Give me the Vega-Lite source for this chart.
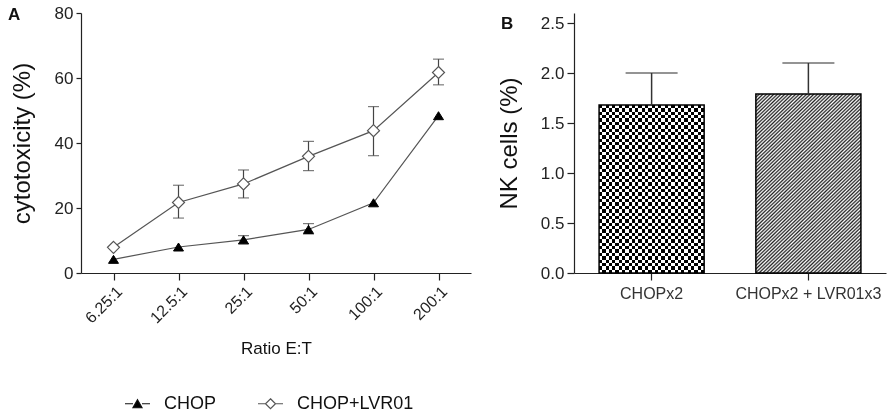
{
"$schema": "https://vega.github.io/schema/vega-lite/v6.json",
"padding": {"left": 8, "top": 4, "right": 4, "bottom": 0},
"spacing": 26,
"config": {
  "font": "Liberation Sans",
  "view": {"stroke": null},
  "axis": {"labelFont": "Liberation Sans", "titleFont": "Liberation Sans", "domainColor": "#222", "tickColor": "#222", "labelColor": "#222", "titleColor": "#111", "grid": false, "titleFontWeight": "normal", "domainWidth": 1.2, "tickWidth": 1.2},
  "legend": {"labelFont": "Liberation Sans"},
  "title": {"font": "Liberation Sans"}
},
"hconcat": [
{
  "width": 390, "height": 260,
  "title": {"text": "A", "anchor": "start", "frame": "group", "fontSize": 17, "fontWeight": "bold", "color": "#111", "dx": -73, "dy": 0, "offset": -20, "baseline": "top"},
  "data": {"values": [
    {"ratio": "6.25:1", "series": "CHOP", "v": 4.2},
    {"ratio": "12.5:1", "series": "CHOP", "v": 8.0},
    {"ratio": "25:1", "series": "CHOP", "v": 10.2, "lo": 9.0, "hi": 11.5},
    {"ratio": "50:1", "series": "CHOP", "v": 13.4, "lo": 12.0, "hi": 15.2},
    {"ratio": "100:1", "series": "CHOP", "v": 21.6},
    {"ratio": "200:1", "series": "CHOP", "v": 48.4},
    {"ratio": "6.25:1", "series": "CHOP+LVR01", "v": 7.9},
    {"ratio": "12.5:1", "series": "CHOP+LVR01", "v": 21.7, "lo": 16.9, "hi": 27.0},
    {"ratio": "25:1", "series": "CHOP+LVR01", "v": 27.4, "lo": 23.1, "hi": 31.7},
    {"ratio": "50:1", "series": "CHOP+LVR01", "v": 35.9, "lo": 31.5, "hi": 40.5},
    {"ratio": "100:1", "series": "CHOP+LVR01", "v": 43.8, "lo": 36.1, "hi": 51.2},
    {"ratio": "200:1", "series": "CHOP+LVR01", "v": 61.7, "lo": 57.9, "hi": 65.8}
  ]},
  "encoding": {
    "x": {"field": "ratio", "type": "ordinal", "sort": ["6.25:1", "12.5:1", "25:1", "50:1", "100:1", "200:1"],
          "scale": {"type": "point", "padding": 0.5},
          "axis": {"title": "Ratio E:T", "labelAngle": -45, "labelFontSize": 16, "titleFontSize": 17, "tickSize": 7, "labelPadding": 3, "titlePadding": 15}}
  },
  "layer": [
    {"mark": {"type": "line", "color": "#555", "strokeWidth": 1.2},
     "encoding": {"y": {"field": "v", "type": "quantitative", "title": "cytotoxicity (%)", "scale": {"domain": [0, 80]},
                        "axis": {"values": [0, 20, 40, 60, 80], "tickSize": 5, "labelFontSize": 17, "titleFontSize": 24, "titlePadding": 20, "labelPadding": 3}},
                  "detail": {"field": "series"}}},
    {"transform": [{"filter": "isValid(datum.lo)"}],
     "mark": {"type": "rule", "color": "#444", "strokeWidth": 1.2},
     "encoding": {"y": {"field": "lo", "type": "quantitative", "title": "cytotoxicity (%)"}, "y2": {"field": "hi", "title": "cytotoxicity (%)"}}},
    {"transform": [{"filter": "isValid(datum.lo)"}],
     "mark": {"type": "tick", "color": "#444", "thickness": 1.2, "size": 11},
     "encoding": {"y": {"field": "lo", "type": "quantitative", "title": "cytotoxicity (%)"}}},
    {"transform": [{"filter": "isValid(datum.hi)"}],
     "mark": {"type": "tick", "color": "#444", "thickness": 1.2, "size": 11},
     "encoding": {"y": {"field": "hi", "type": "quantitative", "title": "cytotoxicity (%)"}}},
    {"transform": [{"filter": "datum.series === 'CHOP'"}],
     "mark": {"type": "point", "shape": "M0,-0.8L1,0.8L-1,0.8Z", "filled": true, "fill": "#000", "stroke": "#000", "strokeWidth": 1, "size": 100, "opacity": 1},
     "encoding": {"y": {"field": "v", "type": "quantitative", "title": "cytotoxicity (%)"}}},
    {"transform": [{"filter": "datum.series === 'CHOP+LVR01'"}],
     "mark": {"type": "point", "shape": "M0,-1L1,0L0,1L-1,0Z", "filled": true, "fill": "#fff", "stroke": "#555", "strokeWidth": 1.2, "size": 144, "opacity": 1},
     "encoding": {"y": {"field": "v", "type": "quantitative", "title": "cytotoxicity (%)"}}},
    {"transform": [{"filter": "false"}],
     "mark": {"type": "point", "filled": true, "strokeWidth": 1.2, "opacity": 1},
     "encoding": {
       "shape": {"field": "series", "type": "nominal",
                 "scale": {"domain": ["CHOP", "CHOP+LVR01"], "range": ["M-1,0L-0.36,0M0.36,0L1,0M0,-0.32L0.36,0.32L-0.36,0.32Z", "M-1,0L-0.4,0M0.4,0L1,0M0,-0.4L0.4,0L0,0.4L-0.4,0Z"]},
                 "legend": {"title": null, "orient": "none", "legendX": 43, "legendY": 377, "direction": "horizontal", "symbolSize": 625, "labelFontSize": 18, "labelColor": "#111", "symbolStrokeWidth": 1.2, "labelOffset": 13, "columnPadding": 38, "symbolOpacity": 1}},
       "fill": {"field": "series", "type": "nominal",
                "scale": {"domain": ["CHOP", "CHOP+LVR01"], "range": ["#000", "#fff"]},
                "legend": {"title": null, "orient": "none", "legendX": 43, "legendY": 377, "direction": "horizontal", "symbolSize": 625, "labelFontSize": 18, "labelColor": "#111", "symbolStrokeWidth": 1.2, "labelOffset": 13, "columnPadding": 38, "symbolOpacity": 1}},
       "stroke": {"field": "series", "type": "nominal",
                "scale": {"domain": ["CHOP", "CHOP+LVR01"], "range": ["#111", "#555"]},
                "legend": {"title": null, "orient": "none", "legendX": 43, "legendY": 377, "direction": "horizontal", "symbolSize": 625, "labelFontSize": 18, "labelColor": "#111", "symbolStrokeWidth": 1.2, "labelOffset": 13, "columnPadding": 38, "symbolOpacity": 1}}
     }}
  ]
},
{
  "width": 312, "height": 260,
  "title": {"text": "B", "anchor": "start", "frame": "group", "fontSize": 17, "fontWeight": "bold", "color": "#111", "dx": -73, "dy": 0, "offset": -20, "baseline": "top"},
  "data": {"values": [
    {"group": "CHOPx2", "v": 1.68, "hi": 2.0},
    {"group": "CHOPx2 + LVR01x3", "v": 1.79, "hi": 2.1}
  ]},
  "encoding": {
    "x": {"field": "group", "type": "nominal", "sort": null,
          "scale": {"paddingInner": 0.33, "paddingOuter": 0.16},
          "axis": {"title": null, "labelAngle": 0, "labelFontSize": 16, "tickSize": 7, "labelPadding": 5, "labelColor": "#333"}}
  },
  "layer": [
    {"transform": [{"filter": "datum.group === 'CHOPx2'"}],
     "mark": {"type": "bar", "fill": {"gradient": "linear", "x1": 0, "y1": 0, "x2": 0, "y2": 1, "stops": [
       {"offset": 0, "color": "#000"}, {"offset": 0.02, "color": "#000"}, {"offset": 0.02, "color": "#fff"}, {"offset": 0.04, "color": "#fff"},
       {"offset": 0.04, "color": "#000"}, {"offset": 0.06, "color": "#000"}, {"offset": 0.06, "color": "#fff"}, {"offset": 0.08, "color": "#fff"},
       {"offset": 0.08, "color": "#000"}, {"offset": 0.1, "color": "#000"}, {"offset": 0.1, "color": "#fff"}, {"offset": 0.12, "color": "#fff"},
       {"offset": 0.12, "color": "#000"}, {"offset": 0.14, "color": "#000"}, {"offset": 0.14, "color": "#fff"}, {"offset": 0.16, "color": "#fff"},
       {"offset": 0.16, "color": "#000"}, {"offset": 0.18, "color": "#000"}, {"offset": 0.18, "color": "#fff"}, {"offset": 0.2, "color": "#fff"},
       {"offset": 0.2, "color": "#000"}, {"offset": 0.22, "color": "#000"}, {"offset": 0.22, "color": "#fff"}, {"offset": 0.24, "color": "#fff"},
       {"offset": 0.24, "color": "#000"}, {"offset": 0.26, "color": "#000"}, {"offset": 0.26, "color": "#fff"}, {"offset": 0.28, "color": "#fff"},
       {"offset": 0.28, "color": "#000"}, {"offset": 0.3, "color": "#000"}, {"offset": 0.3, "color": "#fff"}, {"offset": 0.32, "color": "#fff"},
       {"offset": 0.32, "color": "#000"}, {"offset": 0.34, "color": "#000"}, {"offset": 0.34, "color": "#fff"}, {"offset": 0.36, "color": "#fff"},
       {"offset": 0.36, "color": "#000"}, {"offset": 0.38, "color": "#000"}, {"offset": 0.38, "color": "#fff"}, {"offset": 0.4, "color": "#fff"},
       {"offset": 0.4, "color": "#000"}, {"offset": 0.42, "color": "#000"}, {"offset": 0.42, "color": "#fff"}, {"offset": 0.44, "color": "#fff"},
       {"offset": 0.44, "color": "#000"}, {"offset": 0.46, "color": "#000"}, {"offset": 0.46, "color": "#fff"}, {"offset": 0.48, "color": "#fff"},
       {"offset": 0.48, "color": "#000"}, {"offset": 0.5, "color": "#000"}, {"offset": 0.5, "color": "#fff"}, {"offset": 0.52, "color": "#fff"},
       {"offset": 0.52, "color": "#000"}, {"offset": 0.54, "color": "#000"}, {"offset": 0.54, "color": "#fff"}, {"offset": 0.56, "color": "#fff"},
       {"offset": 0.56, "color": "#000"}, {"offset": 0.58, "color": "#000"}, {"offset": 0.58, "color": "#fff"}, {"offset": 0.6, "color": "#fff"},
       {"offset": 0.6, "color": "#000"}, {"offset": 0.62, "color": "#000"}, {"offset": 0.62, "color": "#fff"}, {"offset": 0.64, "color": "#fff"},
       {"offset": 0.64, "color": "#000"}, {"offset": 0.66, "color": "#000"}, {"offset": 0.66, "color": "#fff"}, {"offset": 0.68, "color": "#fff"},
       {"offset": 0.68, "color": "#000"}, {"offset": 0.7, "color": "#000"}, {"offset": 0.7, "color": "#fff"}, {"offset": 0.72, "color": "#fff"},
       {"offset": 0.72, "color": "#000"}, {"offset": 0.74, "color": "#000"}, {"offset": 0.74, "color": "#fff"}, {"offset": 0.76, "color": "#fff"},
       {"offset": 0.76, "color": "#000"}, {"offset": 0.78, "color": "#000"}, {"offset": 0.78, "color": "#fff"}, {"offset": 0.8, "color": "#fff"},
       {"offset": 0.8, "color": "#000"}, {"offset": 0.82, "color": "#000"}, {"offset": 0.82, "color": "#fff"}, {"offset": 0.84, "color": "#fff"},
       {"offset": 0.84, "color": "#000"}, {"offset": 0.86, "color": "#000"}, {"offset": 0.86, "color": "#fff"}, {"offset": 0.88, "color": "#fff"},
       {"offset": 0.88, "color": "#000"}, {"offset": 0.9, "color": "#000"}, {"offset": 0.9, "color": "#fff"}, {"offset": 0.92, "color": "#fff"},
       {"offset": 0.92, "color": "#000"}, {"offset": 0.94, "color": "#000"}, {"offset": 0.94, "color": "#fff"}, {"offset": 0.96, "color": "#fff"},
       {"offset": 0.96, "color": "#000"}, {"offset": 0.98, "color": "#000"}, {"offset": 0.98, "color": "#fff"}, {"offset": 1, "color": "#fff"}
     ]}},
     "encoding": {"y": {"field": "v", "type": "quantitative", "title": "NK cells (%)", "scale": {"domain": [0, 2.5]},
                        "axis": {"values": [0, 0.5, 1, 1.5, 2, 2.5], "format": ".1f", "tickSize": 7, "labelFontSize": 17, "titleFontSize": 24, "titlePadding": 19, "labelPadding": 3}}}},
    {"transform": [{"filter": "datum.group === 'CHOPx2'"}],
     "mark": {"type": "bar", "blend": "difference", "fill": {"gradient": "linear", "x1": 0, "y1": 0, "x2": 1, "y2": 0, "stops": [
       {"offset": 0, "color": "#000"}, {"offset": 0.03125, "color": "#000"}, {"offset": 0.03125, "color": "#fff"}, {"offset": 0.0625, "color": "#fff"},
       {"offset": 0.0625, "color": "#000"}, {"offset": 0.09375, "color": "#000"}, {"offset": 0.09375, "color": "#fff"}, {"offset": 0.125, "color": "#fff"},
       {"offset": 0.125, "color": "#000"}, {"offset": 0.15625, "color": "#000"}, {"offset": 0.15625, "color": "#fff"}, {"offset": 0.1875, "color": "#fff"},
       {"offset": 0.1875, "color": "#000"}, {"offset": 0.21875, "color": "#000"}, {"offset": 0.21875, "color": "#fff"}, {"offset": 0.25, "color": "#fff"},
       {"offset": 0.25, "color": "#000"}, {"offset": 0.28125, "color": "#000"}, {"offset": 0.28125, "color": "#fff"}, {"offset": 0.3125, "color": "#fff"},
       {"offset": 0.3125, "color": "#000"}, {"offset": 0.34375, "color": "#000"}, {"offset": 0.34375, "color": "#fff"}, {"offset": 0.375, "color": "#fff"},
       {"offset": 0.375, "color": "#000"}, {"offset": 0.40625, "color": "#000"}, {"offset": 0.40625, "color": "#fff"}, {"offset": 0.4375, "color": "#fff"},
       {"offset": 0.4375, "color": "#000"}, {"offset": 0.46875, "color": "#000"}, {"offset": 0.46875, "color": "#fff"}, {"offset": 0.5, "color": "#fff"},
       {"offset": 0.5, "color": "#000"}, {"offset": 0.53125, "color": "#000"}, {"offset": 0.53125, "color": "#fff"}, {"offset": 0.5625, "color": "#fff"},
       {"offset": 0.5625, "color": "#000"}, {"offset": 0.59375, "color": "#000"}, {"offset": 0.59375, "color": "#fff"}, {"offset": 0.625, "color": "#fff"},
       {"offset": 0.625, "color": "#000"}, {"offset": 0.65625, "color": "#000"}, {"offset": 0.65625, "color": "#fff"}, {"offset": 0.6875, "color": "#fff"},
       {"offset": 0.6875, "color": "#000"}, {"offset": 0.71875, "color": "#000"}, {"offset": 0.71875, "color": "#fff"}, {"offset": 0.75, "color": "#fff"},
       {"offset": 0.75, "color": "#000"}, {"offset": 0.78125, "color": "#000"}, {"offset": 0.78125, "color": "#fff"}, {"offset": 0.8125, "color": "#fff"},
       {"offset": 0.8125, "color": "#000"}, {"offset": 0.84375, "color": "#000"}, {"offset": 0.84375, "color": "#fff"}, {"offset": 0.875, "color": "#fff"},
       {"offset": 0.875, "color": "#000"}, {"offset": 0.90625, "color": "#000"}, {"offset": 0.90625, "color": "#fff"}, {"offset": 0.9375, "color": "#fff"},
       {"offset": 0.9375, "color": "#000"}, {"offset": 0.96875, "color": "#000"}, {"offset": 0.96875, "color": "#fff"}, {"offset": 1, "color": "#fff"}
     ]}},
     "encoding": {"y": {"field": "v", "type": "quantitative", "title": "NK cells (%)"}}},
    {"transform": [{"filter": "datum.group !== 'CHOPx2'"}],
     "mark": {"type": "bar", "fill": {"gradient": "linear", "x1": 0, "y1": 0, "x2": 0.67, "y2": 1.186, "stops": [
       {"offset": 0, "color": "#222"}, {"offset": 0.00625, "color": "#fff"}, {"offset": 0.0125, "color": "#222"}, {"offset": 0.01875, "color": "#fff"}, {"offset": 0.025, "color": "#222"}, {"offset": 0.03125, "color": "#fff"}, {"offset": 0.0375, "color": "#222"}, {"offset": 0.04375, "color": "#fff"},
       {"offset": 0.05, "color": "#222"}, {"offset": 0.05625, "color": "#fff"}, {"offset": 0.0625, "color": "#222"}, {"offset": 0.06875, "color": "#fff"}, {"offset": 0.075, "color": "#222"}, {"offset": 0.08125, "color": "#fff"}, {"offset": 0.0875, "color": "#222"}, {"offset": 0.09375, "color": "#fff"},
       {"offset": 0.1, "color": "#222"}, {"offset": 0.10625, "color": "#fff"}, {"offset": 0.1125, "color": "#222"}, {"offset": 0.11875, "color": "#fff"}, {"offset": 0.125, "color": "#222"}, {"offset": 0.13125, "color": "#fff"}, {"offset": 0.1375, "color": "#222"}, {"offset": 0.14375, "color": "#fff"},
       {"offset": 0.15, "color": "#222"}, {"offset": 0.15625, "color": "#fff"}, {"offset": 0.1625, "color": "#222"}, {"offset": 0.16875, "color": "#fff"}, {"offset": 0.175, "color": "#222"}, {"offset": 0.18125, "color": "#fff"}, {"offset": 0.1875, "color": "#222"}, {"offset": 0.19375, "color": "#fff"},
       {"offset": 0.2, "color": "#222"}, {"offset": 0.20625, "color": "#fff"}, {"offset": 0.2125, "color": "#222"}, {"offset": 0.21875, "color": "#fff"}, {"offset": 0.225, "color": "#222"}, {"offset": 0.23125, "color": "#fff"}, {"offset": 0.2375, "color": "#222"}, {"offset": 0.24375, "color": "#fff"},
       {"offset": 0.25, "color": "#222"}, {"offset": 0.25625, "color": "#fff"}, {"offset": 0.2625, "color": "#222"}, {"offset": 0.26875, "color": "#fff"}, {"offset": 0.275, "color": "#222"}, {"offset": 0.28125, "color": "#fff"}, {"offset": 0.2875, "color": "#222"}, {"offset": 0.29375, "color": "#fff"},
       {"offset": 0.3, "color": "#222"}, {"offset": 0.30625, "color": "#fff"}, {"offset": 0.3125, "color": "#222"}, {"offset": 0.31875, "color": "#fff"}, {"offset": 0.325, "color": "#222"}, {"offset": 0.33125, "color": "#fff"}, {"offset": 0.3375, "color": "#222"}, {"offset": 0.34375, "color": "#fff"},
       {"offset": 0.35, "color": "#222"}, {"offset": 0.35625, "color": "#fff"}, {"offset": 0.3625, "color": "#222"}, {"offset": 0.36875, "color": "#fff"}, {"offset": 0.375, "color": "#222"}, {"offset": 0.38125, "color": "#fff"}, {"offset": 0.3875, "color": "#222"}, {"offset": 0.39375, "color": "#fff"},
       {"offset": 0.4, "color": "#222"}, {"offset": 0.40625, "color": "#fff"}, {"offset": 0.4125, "color": "#222"}, {"offset": 0.41875, "color": "#fff"}, {"offset": 0.425, "color": "#222"}, {"offset": 0.43125, "color": "#fff"}, {"offset": 0.4375, "color": "#222"}, {"offset": 0.44375, "color": "#fff"},
       {"offset": 0.45, "color": "#222"}, {"offset": 0.45625, "color": "#fff"}, {"offset": 0.4625, "color": "#222"}, {"offset": 0.46875, "color": "#fff"}, {"offset": 0.475, "color": "#222"}, {"offset": 0.48125, "color": "#fff"}, {"offset": 0.4875, "color": "#222"}, {"offset": 0.49375, "color": "#fff"},
       {"offset": 0.5, "color": "#222"}, {"offset": 0.50625, "color": "#fff"}, {"offset": 0.5125, "color": "#222"}, {"offset": 0.51875, "color": "#fff"}, {"offset": 0.525, "color": "#222"}, {"offset": 0.53125, "color": "#fff"}, {"offset": 0.5375, "color": "#222"}, {"offset": 0.54375, "color": "#fff"},
       {"offset": 0.55, "color": "#222"}, {"offset": 0.55625, "color": "#fff"}, {"offset": 0.5625, "color": "#222"}, {"offset": 0.56875, "color": "#fff"}, {"offset": 0.575, "color": "#222"}, {"offset": 0.58125, "color": "#fff"}, {"offset": 0.5875, "color": "#222"}, {"offset": 0.59375, "color": "#fff"},
       {"offset": 0.6, "color": "#222"}, {"offset": 0.60625, "color": "#fff"}, {"offset": 0.6125, "color": "#222"}, {"offset": 0.61875, "color": "#fff"}, {"offset": 0.625, "color": "#222"}, {"offset": 0.63125, "color": "#fff"}, {"offset": 0.6375, "color": "#222"}, {"offset": 0.64375, "color": "#fff"},
       {"offset": 0.65, "color": "#222"}, {"offset": 0.65625, "color": "#fff"}, {"offset": 0.6625, "color": "#222"}, {"offset": 0.66875, "color": "#fff"}, {"offset": 0.675, "color": "#222"}, {"offset": 0.68125, "color": "#fff"}, {"offset": 0.6875, "color": "#222"}, {"offset": 0.69375, "color": "#fff"},
       {"offset": 0.7, "color": "#222"}, {"offset": 0.70625, "color": "#fff"}, {"offset": 0.7125, "color": "#222"}, {"offset": 0.71875, "color": "#fff"}, {"offset": 0.725, "color": "#222"}, {"offset": 0.73125, "color": "#fff"}, {"offset": 0.7375, "color": "#222"}, {"offset": 0.74375, "color": "#fff"},
       {"offset": 0.75, "color": "#222"}, {"offset": 0.75625, "color": "#fff"}, {"offset": 0.7625, "color": "#222"}, {"offset": 0.76875, "color": "#fff"}, {"offset": 0.775, "color": "#222"}, {"offset": 0.78125, "color": "#fff"}, {"offset": 0.7875, "color": "#222"}, {"offset": 0.79375, "color": "#fff"},
       {"offset": 0.8, "color": "#222"}, {"offset": 0.80625, "color": "#fff"}, {"offset": 0.8125, "color": "#222"}, {"offset": 0.81875, "color": "#fff"}, {"offset": 0.825, "color": "#222"}, {"offset": 0.83125, "color": "#fff"}, {"offset": 0.8375, "color": "#222"}, {"offset": 0.84375, "color": "#fff"},
       {"offset": 0.85, "color": "#222"}, {"offset": 0.85625, "color": "#fff"}, {"offset": 0.8625, "color": "#222"}, {"offset": 0.86875, "color": "#fff"}, {"offset": 0.875, "color": "#222"}, {"offset": 0.88125, "color": "#fff"}, {"offset": 0.8875, "color": "#222"}, {"offset": 0.89375, "color": "#fff"},
       {"offset": 0.9, "color": "#222"}, {"offset": 0.90625, "color": "#fff"}, {"offset": 0.9125, "color": "#222"}, {"offset": 0.91875, "color": "#fff"}, {"offset": 0.925, "color": "#222"}, {"offset": 0.93125, "color": "#fff"}, {"offset": 0.9375, "color": "#222"}, {"offset": 0.94375, "color": "#fff"},
       {"offset": 0.95, "color": "#222"}, {"offset": 0.95625, "color": "#fff"}, {"offset": 0.9625, "color": "#222"}, {"offset": 0.96875, "color": "#fff"}, {"offset": 0.975, "color": "#222"}, {"offset": 0.98125, "color": "#fff"}, {"offset": 0.9875, "color": "#222"}, {"offset": 0.99375, "color": "#fff"},
       {"offset": 1, "color": "#222"}
     ]}},
     "encoding": {"y": {"field": "v", "type": "quantitative", "title": "NK cells (%)"}}},
    {"mark": {"type": "bar", "fill": "transparent", "stroke": "#000", "strokeWidth": 1.5},
     "encoding": {"y": {"field": "v", "type": "quantitative", "title": "NK cells (%)"}}},
    {"mark": {"type": "rule", "color": "#333", "strokeWidth": 1.5},
     "encoding": {"y": {"field": "v", "type": "quantitative", "title": "NK cells (%)"}, "y2": {"field": "hi", "title": "NK cells (%)"}}},
    {"mark": {"type": "tick", "color": "#333", "thickness": 1.5, "size": 52},
     "encoding": {"y": {"field": "hi", "type": "quantitative", "title": "NK cells (%)"}}}
  ]
}
]
}
